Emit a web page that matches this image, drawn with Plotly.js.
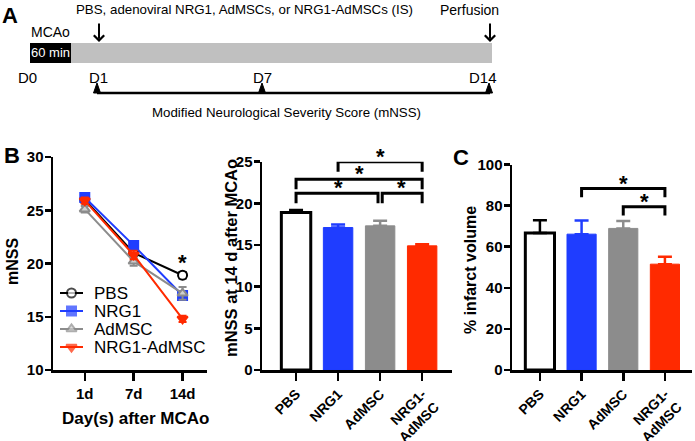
<!DOCTYPE html>
<html>
<head>
<meta charset="utf-8">
<script src="https://cdn.plot.ly/plotly-3.0.1.min.js"></script>
<style>
  html, body { margin: 0; padding: 0; background: #fff; }
  #chart { width: 695px; height: 441px; }
</style>
</head>
<body>
<div id="chart"></div>
<script>
// ---- data ----
const groups = ['PBS', 'NRG1', 'AdMSC', 'NRG1-AdMSC'];
const groupTicks = ['PBS', 'NRG1', 'AdMSC', 'NRG1-<br>AdMSC'];
const groupColors = ['#000000', '#1f3dff', '#8c8c8c', '#ff2a00'];
const barFills = ['#ffffff', '#1f3dff', '#8c8c8c', '#ff2a00'];
const lineSymbols = ['circle', 'square', 'triangle-up', 'triangle-down'];
const markerFills = ['#ffffff', '#1f3dff', '#cfcfcf', '#ff2a00'];

// panel B (line): mNSS over time
const days = ['1d', '7d', '14d'];
const mnssPBS = [26.0, 21.0, 18.9];
const mnssNRG1 = [26.2, 21.7, 17.0];
const mnssAdMSC = [25.1, 20.2, 17.2];
const mnssCombo = [25.9, 20.8, 14.8];
const errPBS = [0.3, 0.3, 0.3];
const errNRG1 = [0.3, 0.4, 0.4];
const errAdMSC = [0.3, 0.4, 0.6];
const errCombo = [0.3, 0.4, 0.3];

// panel B (bar): mNSS at 14 d
const mnss14 = [18.9, 17.1, 17.3, 14.9];
const mnss14Err = [0.3, 0.35, 0.6, 0.2];

// panel C: % infarct volume
const infarct = [66.7, 66.1, 68.9, 51.5];
const infarctErr = [6.2, 6.6, 3.6, 3.6];

// significance brackets [from, to, height]
const sigMnss = [[0, 2, 21.2], [2, 3, 21.2], [0, 3, 22.9], [1, 3, 25.0]];
const sigInfarct = [[1, 3, 88.3], [2, 3, 79.4]];

// panel A timeline
const timelineDays = ['D0', 'D1', 'D7', 'D14'];

const W = 695, H = 441;
const px = x => x / W;
const py = y => 1 - y / H;
const FONT = 'Arial, "Liberation Sans", sans-serif';

function lineTrace(i, y, err) {
    return {
        x: [0, 1, 2], y: y, name: groups[i], type: 'scatter', mode: 'lines+markers',
        xaxis: 'x', yaxis: 'y', showlegend: false,
        line: { color: groupColors[i], width: 2 },
        marker: { symbol: lineSymbols[i], size: 9, color: markerFills[i], line: { color: groupColors[i], width: 2 } },
        error_y: { type: 'data', array: err, color: groupColors[i], thickness: 2, width: 4 }
    };
}

function barTraces(values, errs, xa, ya, capw) {
    return values.map((v, i) => ({
        x: [i], y: [v], type: 'bar', xaxis: xa, yaxis: ya, width: 0.7,
        showlegend: false, name: groups[i],
        marker: { color: barFills[i], line: { color: groupColors[i], width: i === 0 ? 3 : 1 } },
        error_y: { type: 'data', array: [errs[i]], arrayminus: [0], symmetric: false,
                   color: groupColors[i], thickness: 2.5, width: capw }
    }));
}

// hand-made legend for panel B, drawn on a pixel-space overlay axis
const legendRow = i => 293 + i * 18;
const legendTraces = groups.map((g, i) => ({
    x: [60, 71.5, 83], y: [legendRow(i), legendRow(i), legendRow(i)],
    type: 'scatter', mode: 'lines+markers', xaxis: 'x4', yaxis: 'y4', showlegend: false,
    line: { color: groupColors[i], width: 2 },
    marker: { symbol: lineSymbols[i], size: [0, 9, 0], color: markerFills[i], line: { color: groupColors[i], width: 2 } }
}));

const traces = [
    lineTrace(0, mnssPBS, errPBS),
    lineTrace(1, mnssNRG1, errNRG1),
    lineTrace(2, mnssAdMSC, errAdMSC),
    lineTrace(3, mnssCombo, errCombo),
    ...barTraces(mnss14, mnss14Err, 'x2', 'y2', 7),
    ...barTraces(infarct, infarctErr, 'x3', 'y3', 7),
    ...legendTraces
];

const tickFont = { family: FONT, size: 15, color: '#000', weight: 'bold' };
function axisStyle(extra) {
    return Object.assign({
        showline: true, linecolor: '#000', linewidth: 2.5, ticks: 'outside',
        ticklen: 6, tickwidth: 2.5, tickcolor: '#000', showgrid: false,
        zeroline: false, tickfont: tickFont, fixedrange: true, ticklabelstandoff: -2
    }, extra);
}

const shapes = [];
const annotations = [];
const star = { family: FONT, size: 22, color: '#000', weight: 'bold' };

function addBrackets(list, xref, yref, drop, inset) {
    list.forEach(([a, b, h]) => {
        const x0 = a + (a === 2 ? inset : 0);
        const x1 = b - (b === 2 ? inset : 0);
        shapes.push({
            type: 'path', xref: xref, yref: yref,
            path: `M ${x0},${h - drop} L ${x0},${h} L ${x1},${h} L ${x1},${h - drop}`,
            line: { color: '#000', width: 3 }
        });
        annotations.push({
            xref: xref, yref: yref, x: (a + b) / 2, y: h, text: '*', showarrow: false,
            xanchor: 'center', yanchor: 'bottom', yshift: -9, font: star
        });
    });
}
addBrackets(sigMnss, 'x2', 'y2', 1.2, 0.05);
addBrackets(sigInfarct, 'x3', 'y3', 4.2, 0);

// asterisk on the line plot at 14d
annotations.push({
    xref: 'x', yref: 'y', x: 2, y: 20.1, text: '*', showarrow: false,
    xanchor: 'center', yanchor: 'middle', font: star
});

// ---- panel A: timeline diagram ----
shapes.push({ type: 'rect', xref: 'paper', yref: 'paper', x0: px(71), x1: px(492), y0: py(63), y1: py(43),
              fillcolor: '#c0c0c0', line: { width: 0 } });
shapes.push({ type: 'rect', xref: 'paper', yref: 'paper', x0: px(30), x1: px(71), y0: py(63), y1: py(43),
              fillcolor: '#000', line: { width: 0 } });
shapes.push({ type: 'line', xref: 'paper', yref: 'paper', x0: px(97), x1: px(490), y0: py(93), y1: py(93),
              line: { color: '#000', width: 2.5 } });
[97, 262, 489].forEach(x => {
    shapes.push({ type: 'path', xref: 'paper', yref: 'paper',
        path: `M ${px(x - 3.5)},${py(93)} L ${px(x)},${py(83)} L ${px(x + 3.5)},${py(93)} Z`,
        fillcolor: '#000', line: { color: '#000', width: 1 } });
});

const txt = (x, y, text, font, extra) => annotations.push(Object.assign({
    xref: 'paper', yref: 'paper', x: px(x), y: py(y), text: text, showarrow: false,
    xanchor: 'center', yanchor: 'middle', font: font
}, extra || {}));
const plain = (size, color) => ({ family: FONT, size: size, color: color || '#000' });
const bold = size => ({ family: FONT, size: size, color: '#000', weight: 'bold' });

const dayPos = [28, 98, 262, 483];
timelineDays.forEach((d, i) => txt(dayPos[i], 78, d, plain(15)));
txt(50, 32, 'MCAo', plain(14));
txt(50, 53, '60 min', plain(13, '#fff'));
txt(245, 10, 'PBS, adenoviral NRG1, AdMSCs, or NRG1-AdMSCs (IS)', plain(13.3));
txt(469, 10, 'Perfusion', plain(14));
txt(286, 112, 'Modified Neurological Severity Score (mNSS)', plain(13.3));
[99, 490].forEach(x => annotations.push({
    xref: 'paper', yref: 'paper', x: px(x), y: py(42), ax: 0, ay: -20, text: '',
    showarrow: true, arrowhead: 4, arrowsize: 1, arrowwidth: 2, arrowcolor: '#000'
}));

// legend labels
groups.forEach((g, i) => txt(92, legendRow(i), g, plain(17), { xanchor: 'left' }));

// panel letters
txt(10, 16, 'A', bold(22));
txt(12, 156, 'B', bold(22));
txt(461, 157, 'C', bold(22));

// axis titles
txt(12, 262, 'mNSS', bold(16), { textangle: -90 });
txt(135, 418, 'Day(s) after MCAo', bold(17));
txt(231, 258, 'mNSS at 14 d after MCAo', bold(16.5), { textangle: -90 });
txt(470, 270, '% infarct volume', bold(16), { textangle: -90 });

const barTickFont = { family: FONT, size: 14, color: '#000', weight: 'bold' };

const layout = {
    width: W, height: H,
    margin: { l: 0, r: 0, t: 0, b: 0 },
    paper_bgcolor: '#fff', plot_bgcolor: 'rgba(0,0,0,0)',
    barmode: 'overlay',
    font: { family: FONT, color: '#000' },
    showlegend: false,
    xaxis: axisStyle({ domain: [px(53), px(207)], range: [-0.65, 2.5], tickvals: [0, 1, 2], ticktext: days,
                       anchor: 'y', ticklen: 8, ticklabelstandoff: 0 }),
    yaxis: axisStyle({ domain: [py(370), py(157)], range: [10, 30], dtick: 5, anchor: 'x' }),
    xaxis2: axisStyle({ domain: [px(262), px(452)], range: [-0.81, 3.71], tickvals: [0, 1, 2, 3], ticklen: 8,
                        ticktext: groupTicks, tickangle: -45, anchor: 'y2', tickfont: barTickFont, ticklabelstandoff: 0 }),
    yaxis2: axisStyle({ domain: [py(370), py(161.7)], range: [0, 25], dtick: 5, anchor: 'x2' }),
    xaxis3: axisStyle({ domain: [px(512), px(692)], range: [-0.67, 3.65], tickvals: [0, 1, 2, 3], ticklen: 8,
                        ticktext: groupTicks, tickangle: -45, anchor: 'y3', tickfont: barTickFont, ticklabelstandoff: 0 }),
    yaxis3: axisStyle({ domain: [py(370), py(164.5)], range: [0, 100], dtick: 20, anchor: 'x3' }),
    xaxis4: { domain: [0, 1], range: [0, W], visible: false, fixedrange: true, anchor: 'y4' },
    yaxis4: { domain: [0, 1], range: [H, 0], visible: false, fixedrange: true, anchor: 'x4' },
    shapes: shapes,
    annotations: annotations
};

Plotly.newPlot('chart', traces, layout, { staticPlot: true, displayModeBar: false })
    .catch(err => console.error('Error rendering plot:', err));
</script>
</body>
</html>
